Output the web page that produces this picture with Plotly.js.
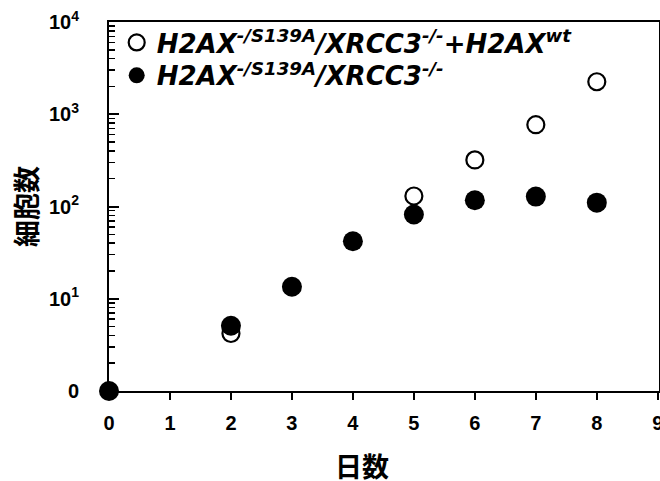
<!DOCTYPE html>
<html>
<head>
<meta charset="utf-8">
<script src="https://cdn.plot.ly/plotly-3.0.1.min.js"></script>
<style>html,body{margin:0;padding:0;background:#fff;}</style>
</head>
<body>
<div id="chart" style="width:660px;height:481px;"></div>
<script>
// Days
const daysWt = [2, 5, 6, 7, 8];
const cellsWt = [4.2, 130, 320, 770, 2250];          // H2AX-/S139A/XRCC3-/- + H2AXwt (open circles)
const daysMut = [0, 2, 3, 4, 5, 6, 7, 8];
const cellsMut = [1, 5.1, 13.5, 42, 82, 117, 128, 110]; // H2AX-/S139A/XRCC3-/- (filled circles)

const seriesNames = [
  'H2AX<sup>-/S139A</sup>/XRCC3<sup>-/-</sup>+H2AX<sup>wt</sup>',
  'H2AX<sup>-/S139A</sup>/XRCC3<sup>-/-</sup>'
];
const yTickVals = [1, 10, 100, 1000, 10000];
const yTickText = ['0', '10<sup>1</sup>', '10<sup>2</sup>', '10<sup>3</sup>', '10<sup>4</sup>'];
const xTickVals = [0, 1, 2, 3, 4, 5, 6, 7, 8, 9];
const xTitle = '日数';
const yTitle = '細胞数';

const traces = [
  {
    x: daysWt, y: cellsWt, name: seriesNames[0], type: 'scatter', mode: 'markers',
    cliponaxis: false, legend: 'legend',
    marker: {symbol: 'circle', size: 17, color: '#ffffff', line: {color: '#000', width: 2.2}}
  },
  {
    x: daysMut, y: cellsMut, name: seriesNames[1], type: 'scatter', mode: 'markers',
    cliponaxis: false, legend: 'legend2',
    marker: {symbol: 'circle', size: 20, color: '#000', line: {width: 0}}
  }
];

const tickFont = {family: 'Liberation Sans, Arial, sans-serif', size: 20, color: '#000', weight: 'bold'};
const cjkFont = {family: 'Noto Sans CJK JP, sans-serif', size: 27, color: '#000', weight: 'bold'};
const legendFont = {family: 'DejaVu Sans, sans-serif', size: 26, color: '#000', weight: 'bold', style: 'italic'};

const layout = {
  width: 660, height: 481,
  margin: {l: 109, r: 1, t: 22, b: 90, pad: 0},
  paper_bgcolor: '#fff', plot_bgcolor: '#fff',
  showlegend: true,
  legend: {
    x: 0.014, y: 1.008, xanchor: 'left', yanchor: 'top',
    bgcolor: 'rgba(0,0,0,0)', borderwidth: 0, font: legendFont, itemwidth: 30
  },
  legend2: {
    x: 0.014, y: 0.919, xanchor: 'left', yanchor: 'top',
    bgcolor: 'rgba(0,0,0,0)', borderwidth: 0, font: legendFont, itemwidth: 30
  },
  xaxis: {
    range: [0, 9.02], tickvals: xTickVals, ticktext: xTickVals.map(String),
    ticks: 'outside', ticklen: 7, tickwidth: 2, tickcolor: '#000',
    showline: true, linewidth: 2, linecolor: '#000', mirror: true,
    showgrid: false, zeroline: false, ticklabeloverflow: 'allow',
    tickfont: tickFont, ticklabelstandoff: 6,
    title: {text: ''}
  },
  yaxis: {
    type: 'log', range: [0, 4], tickvals: yTickVals, ticktext: yTickText,
    ticks: 'inside', ticklen: 10, tickwidth: 2, tickcolor: '#000',
    minor: {dtick: 'D1', ticks: 'inside', ticklen: 6, tickwidth: 1.5, tickcolor: '#000', showgrid: false},
    showline: true, linewidth: 2, linecolor: '#000', mirror: true,
    showgrid: false, zeroline: false,
    tickfont: tickFont, ticklabelstandoff: 24,
    title: {text: yTitle, font: cjkFont, standoff: 4}
  },
  annotations: [
    {text: xTitle, xref: 'paper', yref: 'paper', x: 0.46, y: -0.203, xanchor: 'center', yanchor: 'middle',
     showarrow: false, font: cjkFont}
  ]
};

Plotly.newPlot('chart', traces, layout, {displayModeBar: false, staticPlot: true});
</script>
</body>
</html>
